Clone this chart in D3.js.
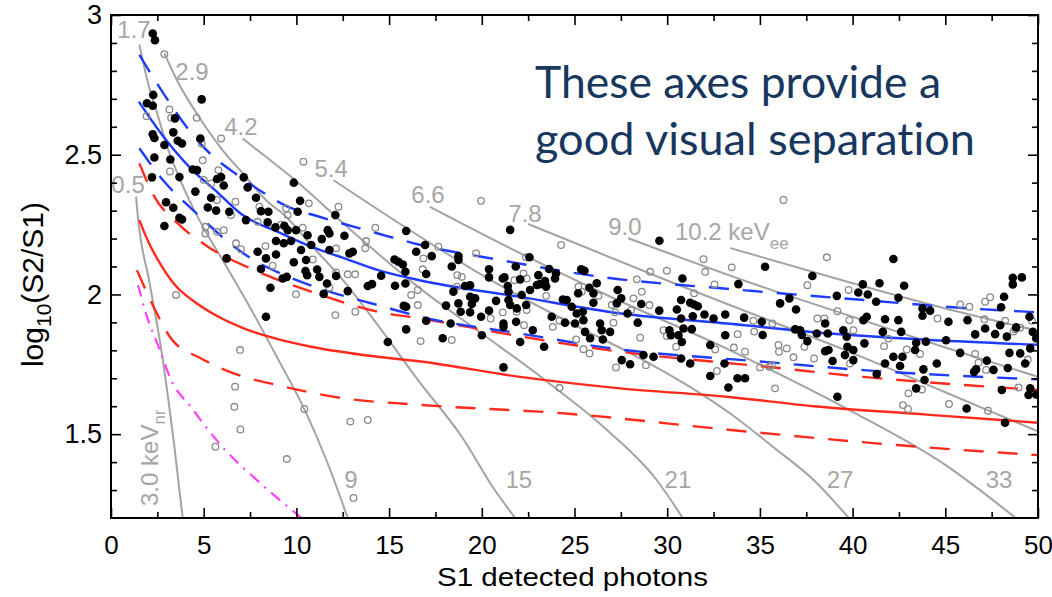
<!DOCTYPE html>
<html>
<head>
<meta charset="utf-8">
<script src="https://cdn.jsdelivr.net/npm/d3@7"></script>
<style>
  body { margin: 0; background: #fff; }
  svg text { font-family: "Liberation Sans", Arial, Helvetica, sans-serif; }
</style>
</head>
<body>
<svg id="chart" width="1052" height="597"></svg>
<script>
// ---- axis ticks ----
const xTicks = [0, 5, 10, 15, 20, 25, 30, 35, 40, 45, 50];
const xMinor = [2.5, 7.5, 12.5, 17.5, 22.5, 27.5, 32.5, 37.5, 42.5, 47.5];
const yTicks = [1.5, 2, 2.5, 3];
const yMinor = [1.3, 1.4, 1.6, 1.7, 1.8, 1.9, 2.1, 2.2, 2.3, 2.4, 2.6, 2.7, 2.8, 2.9];

// ---- band curves (S1, log10(S2/S1)) ----
const erMean = [[1.5,2.69],[2.7,2.576],[4.3,2.451],[5.8,2.362],[7.1,2.284],[9,2.224],[10.8,2.171],[12.6,2.129],[14.4,2.087],[16.7,2.05],[22,1.992],[27.5,1.932],[33.4,1.895],[38.8,1.86],[44.2,1.837],[50,1.82]];
const erUpper = [[1.53,2.857],[2.88,2.714],[4.14,2.594],[5.4,2.5],[6.83,2.427],[8.27,2.362],[9.53,2.314],[11.24,2.278],[14.4,2.218],[16.7,2.177],[21,2.123],[26.4,2.063],[32.9,2.022],[34.5,2.013],[40.6,1.98],[46.3,1.95],[50,1.936]];
const erLower = [[1.53,2.523],[2.88,2.403],[4.32,2.308],[7.55,2.129],[9.35,2.069],[11.69,2.012],[14.39,1.962],[16.7,1.92],[22.07,1.86],[27.46,1.803],[32.86,1.771],[34.47,1.763],[40.58,1.729],[50,1.696]];
const nrMean = [[1.53,2.266],[2.0,2.19],[2.7,2.105],[3.5,2.03],[4.5,1.974],[5.8,1.92],[7.19,1.878],[9,1.84],[10.79,1.813],[14.39,1.777],[16.7,1.76],[22.07,1.705],[27.46,1.664],[33.2,1.634],[37.9,1.6],[44,1.57],[50,1.541]];
const nrUpper = [[1.53,2.469],[2.34,2.35],[3.6,2.254],[5.22,2.171],[7.73,2.087],[10.8,2.01],[14.4,1.938],[16.7,1.914],[22.07,1.85],[27.46,1.795],[32.86,1.757],[34.47,1.747],[40.58,1.705],[50,1.658]];
const nrLower = [[1.4,2.087],[2.34,1.95],[3.24,1.842],[4.86,1.771],[6.65,1.717],[9.0,1.675],[12.59,1.628],[16.4,1.606],[24.52,1.574],[33.44,1.515],[42.38,1.461],[50,1.425]];
const threshold = [[1.46,2.034],[1.8,1.95],[2.64,1.8],[3.24,1.694],[4.3,1.598],[6.0,1.455],[7.86,1.336],[10.28,1.2]];

// ---- constant energy contours (gray) ----
const iso05 = [[1.35,2.35],[1.44,2.284],[2.07,2.045],[2.7,1.807],[3.1,1.62],[3.42,1.455],[3.69,1.3],[3.87,1.2]];
const iso17 = [[1.53,2.895],[1.98,2.761],[2.52,2.642],[3.06,2.523],[3.78,2.403],[4.5,2.3],[6.29,2.093],[7.73,1.926],[8.99,1.771],[10.5,1.58],[11.69,1.395],[12.77,1.2]];
const iso29 = [[2.88,2.863],[3.6,2.761],[4.68,2.642],[5.94,2.523],[7.19,2.427],[8.45,2.332],[9.35,2.284],[10.79,2.177],[12.59,2.045],[14.39,1.89],[16.6,1.69],[18.93,1.49],[20.7,1.3],[21.8,1.2]];
const iso42 = [[7.1,2.558],[8.6,2.48],[10.1,2.4],[12.6,2.25],[16.7,2.02],[20,1.86],[23.4,1.694],[26.75,1.515],[29.43,1.336],[30.84,1.2]];
const iso54 = [[12,2.409],[15.3,2.265],[20,2.07],[25,1.89],[28,1.79],[31.2,1.67],[33.4,1.574],[35.7,1.455],[37.9,1.336],[39.8,1.2]];
const iso66 = [[17.2,2.314],[22,2.15],[27,1.99],[33.4,1.8],[40,1.58],[45,1.39],[48.8,1.2]];
const iso78 = [[22.5,2.252],[30,2.05],[35,1.92],[40,1.79],[45,1.65],[50,1.51]];
const iso90 = [[27.9,2.201],[35,2.03],[40,1.92],[45,1.81],[50,1.705]];
const iso102 = [[33.4,2.166],[40,2.04],[45,1.95],[50,1.87]];

const eeLabels = ["0.5", "1.7", "2.9", "4.2", "5.4", "6.6", "7.8", "9.0"];
const eeLabelAt = [[0.92,2.363],[1.24,2.918],[4.37,2.767],[7.01,2.571],[11.87,2.42],[17.1,2.327],[22.33,2.259],[27.72,2.213]];
const nrLabels = ["9", "15", "21", "27", "33"];
const nrLabelAt = [[12.94,1.307],[22.0,1.307],[30.58,1.307],[39.32,1.307],[47.9,1.307]];

// ---- events ----
const filledPts = [
[2.25,2.934],[2.37,2.91],[2.28,2.714],[4.89,2.698],[1.94,2.684],[2.25,2.675],[3.45,2.63],[2.25,2.573],[2.34,2.56],[3.36,2.58],[3.6,2.55],[3.83,2.54],[2.88,2.535],[4.82,2.558],[3.2,2.483],[2.34,2.49],[2.21,2.419],[3.69,2.42],[4.41,2.447],[4.64,2.445],[4.55,2.368],[5.72,2.413],[5.94,2.42],[6.08,2.39],[7.16,2.419],[7.37,2.383],[7.82,2.346],[9.86,2.4],[10.2,2.335],[5.4,2.346],[2.97,2.33],[3.36,2.31],[5.22,2.311],[5.67,2.30],[6.38,2.296],[8.09,2.298],[8.49,2.296],[12.1,2.284],[10.07,2.296],
[2.88,2.245],[3.69,2.274],[3.83,2.268],[7.28,2.266],[8.45,2.258],[8.87,2.24],[9.35,2.246],[9.53,2.23],[9.98,2.23],[10.6,2.212],[8.9,2.191],[9.32,2.183],[9.71,2.191],[10.8,2.177],[11.37,2.198],[11.69,2.23],[11.78,2.218],[12.59,2.21],[10.25,2.159],[7.91,2.153],[8.36,2.129],[8.9,2.143],[6.24,2.129],[9.86,2.115],[10.52,2.123],[8.09,2.091],[10.49,2.084],[11.12,2.089],[10.58,2.069],[11.24,2.063],[12.14,2.066],[11.78,2.159],[12.86,2.147],[13.04,2.153],[9.26,2.057],[9.48,2.063],[8.6,2.024],[11.65,2.039],[11.47,2.002],[12.77,2.012],[13.85,2.03],[14.08,2.037],[14.57,2.067],[15.29,2.125],[15.5,2.117],[15.74,2.107],[15.88,2.081],[15.92,2.227],[16.46,2.153],[15.32,2.031],[15.88,2.039],[15.79,1.959],[15.92,1.956],[8.36,1.92],[15.92,1.875],[14.93,1.83],
[21.53,2.231],[29.58,2.192],[16.94,2.177],[17.3,2.137],[18.74,2.137],[18.74,2.123],[18.38,2.1],[17.0,2.073],[20.39,2.09],[20.39,2.061],[21.22,2.061],[21.83,2.1],[22.57,2.133],[23.63,2.091],[24.0,2.075],[23.95,2.057],[23.05,2.069],[23.14,2.037],[23.41,2.048],[23.47,2.028],[22.97,2.034],[25.36,2.09],[25.54,2.085],[26.2,2.04],[25.8,2.024],[26.02,2.004],[26.02,1.97],[25.2,2.004],[27.33,2.016],[27.52,1.986],[27.28,1.968],[27.86,1.932],[28.6,1.966],[30.82,2.057],[30.75,1.98],[30.52,1.946],[31.24,1.97],[31.45,1.964],[31.65,1.958],[32.01,1.928],[31.38,1.922],[30.75,1.914],[33.13,1.928],[32.5,1.914],[29.57,1.942],[30.88,1.878],[30.12,1.872],[30.2,1.854],[30.61,1.854],[30.79,1.83],[31.33,1.876],[32.32,1.819],[33.13,1.854],[29.26,1.777],[28.72,1.783],[27.55,1.765],[28.0,1.75],[31.24,1.753],[33.09,1.753],[32.32,1.708],[33.3,1.667],[30.75,1.771],[21.17,1.739],[28.41,1.899],[26.92,1.866],[26.38,1.896],[26.47,1.872],[26.53,1.839],[25.84,1.843],[25.57,1.866],[25.48,1.908],[25.03,1.896],[25.12,1.932],[25.45,1.938],[24.85,1.956],[24.58,1.98],[24.49,1.899],[23.77,1.92],[23.36,1.813],[22.75,1.872],[22.07,1.83],[21.85,1.902],[21.17,1.896],[21.17,1.884],[20.0,1.854],[19.96,1.92],[20.39,1.942],[19.37,1.936],[18.86,1.938],[18.74,1.968],[19.46,1.966],[19.37,1.992],[19.64,1.986],[19.37,2.033],[19.1,2.03],[18.47,2.01],[18.07,1.96],[17.89,1.843],[17.0,1.906],[18.32,1.896],[20.77,1.977],[21.4,2.03],[21.44,2.01],[21.44,1.98],[21.53,1.962],[21.89,1.95],[22.15,1.998],[22.39,1.962],[22.6,2.016],[21.13,2.057],[22.07,2.054],[24.37,1.982],
[35.28,2.099],[33.84,2.037],[37.83,2.066],[42.2,2.127],[40.55,2.036],[40.31,2.007],[40.82,2.0],[41.45,2.04],[42.78,2.031],[42.47,1.988],[41.27,1.974],[39.15,1.995],[36.59,1.986],[36.09,1.968],[36.95,1.946],[34.15,1.917],[35.1,1.902],[35.15,1.855],[36.9,1.875],[37.17,1.872],[37.26,1.855],[37.56,1.833],[38.07,1.86],[38.52,1.896],[38.66,1.86],[39.5,1.872],[39.68,1.849],[38.52,1.797],[38.7,1.801],[39.72,1.813],[40.04,1.801],[39.59,1.783],[40.04,1.765],[38.92,1.762],[40.64,1.825],[40.58,1.908],[40.76,1.92],[41.75,1.911],[41.63,1.866],[42.47,1.908],[42.62,1.866],[43.77,1.95],[43.77,1.924],[44.18,1.942],[43.43,1.827],[43.37,1.801],[43.95,1.831],[41.75,1.753],[42.2,1.777],[42.69,1.777],[42.56,1.744],[41.3,1.715],[43.82,1.732],[44.54,1.753],[43.88,1.694],[43.43,1.664],[45.04,1.836],[45.17,1.902],[45.8,1.791],[46.2,1.908],[46.61,1.857],[47.15,1.878],[47.69,1.858],[47.24,1.763],[46.66,1.732],[46.55,1.723],[47.6,1.73],[47.96,1.89],[48.01,1.954],[48.17,1.992],[48.32,1.849],[48.46,1.791],[48.37,1.737],[48.64,2.06],[48.64,2.036],[49.13,2.061],[48.82,1.882],[49.04,1.789],[49.31,1.753],[49.54,1.92],[49.72,1.866],[49.9,1.843],[49.58,1.807],[48.05,1.658],[49.58,1.664],[49.49,1.64],[49.9,1.642],[39.18,1.634],[33.79,1.7],[34.2,1.7],[46.15,1.592],[48.22,1.541]
];
const openPts = [
[2.88,2.86],[1.92,2.638],[3.15,2.662],[3.24,2.632],[4.62,2.632],[4.89,2.54],[5.94,2.558],[4.95,2.48],[3.18,2.44],[5.79,2.445],[5.0,2.41],[5.4,2.397],[10.38,2.475],[6.71,2.332],[5.72,2.338],[9.44,2.308],[10.67,2.326],[12.27,2.314],[8.0,2.314],[6.47,2.284],[9.53,2.284],
[5.09,2.242],[5.09,2.218],[5.72,2.224],[6.08,2.23],[6.74,2.183],[7.01,2.162],[8.33,2.173],[7.91,2.26],[9.17,2.25],[10.34,2.239],[8.72,2.103],[10.88,2.125],[12.14,2.165],[9.98,2.001],[12.14,2.079],[12.77,2.072],[13.17,2.072],[11.78,2.024],[12.1,1.926],[13.18,1.938],[13.76,2.191],[13.71,2.165],[14.26,2.239],[16.19,1.998],[16.55,2.016],[16.55,1.962],[16.7,1.833],[3.51,1.998],[6.96,1.801],[6.69,1.67],[6.65,1.598],[10.43,1.59],
[6.98,1.517],[5.63,1.455],[9.48,1.411],[12.91,1.545],[13.85,1.551],[13.08,1.272],
[19.96,2.335],[24.28,2.177],[19.69,2.147],[22.39,2.133],[17.66,2.171],[16.85,2.129],[16.81,2.09],[18.68,2.069],[18.92,2.063],[22.25,2.075],[22.43,2.057],[21.76,2.051],[25.21,2.028],[25.39,2.01],[26.29,1.995],[27.01,1.962],[27.19,1.936],[28.18,1.986],[28.36,2.054],[28.63,2.01],[29.08,2.081],[29.98,2.085],[29.04,1.962],[28.05,1.944],[27.1,1.899],[28.54,1.845],[29.8,1.872],[29.98,1.851],[30.48,1.813],[31.45,2.004],[31.96,2.126],[32.05,2.081],[32.55,2.036],[32.59,1.803],[32.68,1.726],[28.85,1.747],[27.24,1.739],[25.48,1.804],[25.81,1.789],[23.83,1.884],[24.19,1.906],[25.09,1.839],[23.47,1.995],[21.88,1.938],[21.13,1.936],[20.48,1.914],[22.42,1.944],[22.28,1.89],[18.38,1.837],[24.19,1.666],[18.65,2.028],
[36.27,2.338],[38.61,2.133],[33.48,2.097],[37.56,2.033],[39.78,2.016],[39.18,1.94],[38.1,1.914],[38.48,1.914],[39.83,1.908],[40.04,1.872],[35.67,1.896],[34.65,1.906],[34.69,1.867],[33.8,1.858],[36.0,1.819],[36.03,1.795],[36.45,1.807],[34.2,1.795],[33.6,1.81],[37.4,1.813],[37.92,1.771],[36.81,1.775],[35.01,1.739],[35.51,1.741],[35.64,1.747],[35.82,1.664],[39.86,1.753],[41.7,1.815],[41.93,1.842],[42.92,1.803],[43.64,1.787],[43.01,1.646],[44.58,1.914],[45.8,1.964],[46.3,1.956],[47.15,1.974],[47.42,1.99],[47.11,1.911],[46.61,1.787],[46.79,1.756],[47.2,1.73],[48.23,1.906],[48.68,1.867],[48.77,1.875],[49.04,1.881],[49.45,1.767],[48.95,1.667],[49.67,1.906],
[42.72,1.604],[42.99,1.59],[45.2,1.608],[47.3,1.584],[43.74,1.66]
];

// ---- layout ----
const margin = { top: 15, right: 14, bottom: 79, left: 111 };
const W = 1052, H = 597;
const svg = d3.select("#chart");

const x = d3.scaleLinear().domain([0, 50]).range([margin.left, W - margin.right]);
const y = d3.scaleLinear().domain([1.2, 3]).range([H - margin.bottom, margin.top]);

svg.append("clipPath").attr("id", "plotclip")
    .append("rect")
    .attr("x", x(0)).attr("y", y(3))
    .attr("width", x(50) - x(0)).attr("height", y(1.2) - y(3));

const plot = svg.append("g").attr("clip-path", "url(#plotclip)");
const line = d3.line().x(d => x(d[0])).y(d => y(d[1])).curve(d3.curveMonotoneX);

// gray iso-energy lines
[iso05, iso17, iso29, iso42, iso54, iso66, iso78, iso90, iso102].forEach(c => {
    plot.append("path").attr("d", line(c))
        .attr("fill", "none").attr("stroke", "#a3a3a3").attr("stroke-width", 2);
});

// magenta threshold
plot.append("path").attr("d", line(threshold))
    .attr("fill", "none").attr("stroke", "#ff40ff").attr("stroke-width", 2.2)
    .attr("stroke-dasharray", "12,7,2,7");

// NR band (red), then ER band (blue) on top
const red = "#ff2a1c", blue = "#1e3cff";
plot.append("path").attr("d", line(nrMean)).attr("fill", "none").attr("stroke", red).attr("stroke-width", 2.4);
[nrUpper, nrLower].forEach(c => plot.append("path").attr("d", line(c))
    .attr("fill", "none").attr("stroke", red).attr("stroke-width", 2.4).attr("stroke-dasharray", "20,14"));
plot.append("path").attr("d", line(erMean)).attr("fill", "none").attr("stroke", blue).attr("stroke-width", 2.4);
[erUpper, erLower].forEach(c => plot.append("path").attr("d", line(c))
    .attr("fill", "none").attr("stroke", blue).attr("stroke-width", 2.4).attr("stroke-dasharray", "20,14"));

// points
plot.selectAll(".open").data(openPts).join("circle")
    .attr("class", "open")
    .attr("cx", d => x(d[0])).attr("cy", d => y(d[1])).attr("r", 3.3)
    .attr("fill", "none").attr("stroke", "#8a8a8a").attr("stroke-width", 1.3);
plot.selectAll(".filled").data(filledPts).join("circle")
    .attr("class", "filled")
    .attr("cx", d => x(d[0])).attr("cy", d => y(d[1])).attr("r", 4.3)
    .attr("fill", "#000");

// contour labels
const labelColor = "#a6a6a6";
svg.selectAll(".eelab").data(eeLabels).join("text")
    .attr("class", "eelab")
    .attr("x", (d, i) => x(eeLabelAt[i][0])).attr("y", (d, i) => y(eeLabelAt[i][1]))
    .attr("text-anchor", "middle").attr("font-size", 24).attr("fill", labelColor)
    .text(d => d);
svg.selectAll(".nrlab").data(nrLabels).join("text")
    .attr("class", "nrlab")
    .attr("x", (d, i) => x(nrLabelAt[i][0])).attr("y", (d, i) => y(nrLabelAt[i][1]))
    .attr("text-anchor", "middle").attr("font-size", 24).attr("fill", labelColor)
    .text(d => d);

const keLab = svg.append("text")
    .attr("x", x(30.42)).attr("y", y(2.195))
    .attr("font-size", 24).attr("fill", labelColor);
keLab.append("tspan").text("10.2 keV");
keLab.append("tspan").attr("font-size", 17).attr("dy", 9).text("ee");

const nrLab = svg.append("text")
    .attr("transform", `translate(${x(2.54)},${y(1.243)}) rotate(-90)`)
    .attr("font-size", 24).attr("fill", labelColor);
nrLab.append("tspan").text("3.0 keV");
nrLab.append("tspan").attr("font-size", 17).attr("dy", 7).text("nr");

// axes: ticks point inward, box on all sides
function tidy(g) { g.select(".domain").remove(); g.selectAll(".tick line").attr("stroke-width", 1.6); }
const x0 = y(1.2), x1 = y(3), yl = x(0), yr = x(50);

svg.append("g").attr("transform", `translate(0,${x0})`)
    .call(d3.axisBottom(x).tickValues(xTicks).tickSize(-10).tickPadding(18).tickFormat(d => d))
    .call(tidy)
    .call(g => g.selectAll("text").attr("font-size", 26).attr("fill", "#000")
        .style("font-family", "'Liberation Sans', Arial, sans-serif"));
svg.append("g").attr("transform", `translate(0,${x0})`)
    .call(d3.axisBottom(x).tickValues(xMinor).tickSize(-6).tickFormat("")).call(tidy);
svg.append("g").attr("transform", `translate(0,${x1})`)
    .call(d3.axisTop(x).tickValues(xTicks).tickSize(-10).tickFormat("")).call(tidy);
svg.append("g").attr("transform", `translate(0,${x1})`)
    .call(d3.axisTop(x).tickValues(xMinor).tickSize(-6).tickFormat("")).call(tidy);

svg.append("g").attr("transform", `translate(${yl},0)`)
    .call(d3.axisLeft(y).tickValues(yTicks).tickSize(-10).tickPadding(9).tickFormat(d => d))
    .call(tidy)
    .call(g => g.selectAll("text").attr("font-size", 27).attr("fill", "#000")
        .style("font-family", "'Liberation Sans', Arial, sans-serif"));
svg.append("g").attr("transform", `translate(${yl},0)`)
    .call(d3.axisLeft(y).tickValues(yMinor).tickSize(-6).tickFormat("")).call(tidy);
svg.append("g").attr("transform", `translate(${yr},0)`)
    .call(d3.axisRight(y).tickValues(yTicks).tickSize(-10).tickFormat("")).call(tidy);
svg.append("g").attr("transform", `translate(${yr},0)`)
    .call(d3.axisRight(y).tickValues(yMinor).tickSize(-6).tickFormat("")).call(tidy);

svg.append("rect")
    .attr("x", yl).attr("y", x1).attr("width", yr - yl).attr("height", x0 - x1)
    .attr("fill", "none").attr("stroke", "#000").attr("stroke-width", 2);

// axis titles
svg.append("text")
    .attr("x", 437).attr("y", 586)
    .attr("textLength", 271).attr("lengthAdjust", "spacingAndGlyphs")
    .attr("font-size", 26).attr("fill", "#000")
    .text("S1 detected photons");

const yt = svg.append("text")
    .attr("transform", `translate(43,${(x0 + x1) / 2 + 18}) rotate(-90)`)
    .attr("text-anchor", "middle").attr("font-size", 30).attr("fill", "#000");
yt.append("tspan").text("log");
yt.append("tspan").attr("font-size", 21).attr("dy", 8).text("10");
yt.append("tspan").attr("dy", -8).text("(S2/S1)");

// slide annotation
const note = svg.append("g").attr("fill", "#17375e").attr("font-size", 44);
note.append("text").attr("x", 535).attr("y", 98)
    .attr("textLength", 406).attr("lengthAdjust", "spacingAndGlyphs")
    .style("font-family", "Lato, 'Open Sans', sans-serif")
    .style("font-variant-ligatures", "none")
    .text("These axes provide a");
note.append("text").attr("x", 535).attr("y", 155)
    .attr("textLength", 440).attr("lengthAdjust", "spacingAndGlyphs")
    .style("font-family", "Lato, 'Open Sans', sans-serif")
    .style("font-variant-ligatures", "none")
    .text("good visual separation");
</script>
</body>
</html>
